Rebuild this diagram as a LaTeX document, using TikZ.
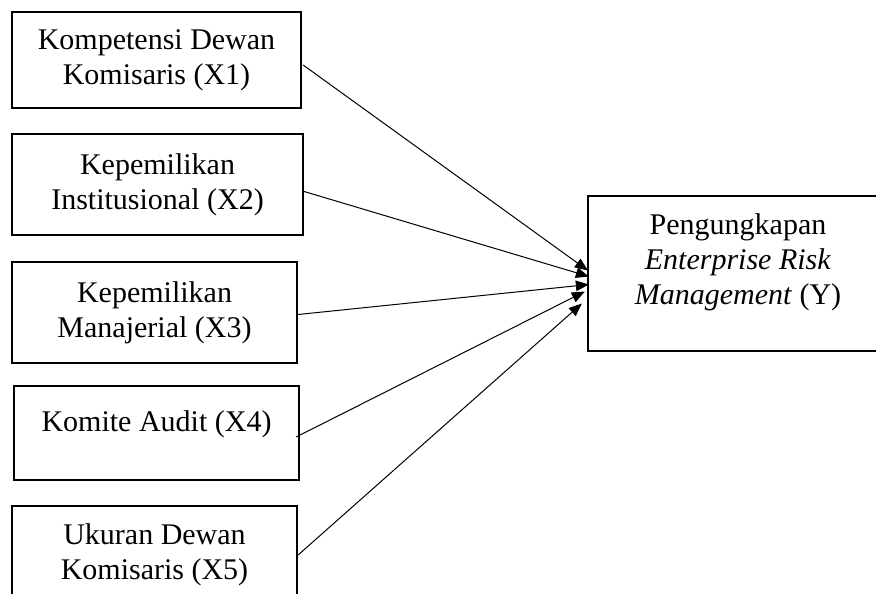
\documentclass[tikz,border=0pt]{standalone}
\usepackage{fontspec}
\setmainfont{Liberation Serif}
\usetikzlibrary{arrows.meta,calc}

\begin{document}
\begin{tikzpicture}[x=0.4pt,y=-0.4pt,
  box/.style={draw,line width=0.9pt,inner sep=0pt,align=center},
  txt/.style={inner sep=0pt,align=center},
  link/.style={line width=0.4pt,-{Triangle[length=5.2pt,width=4.2pt]}}]
\fontsize{12pt}{14pt}\selectfont

\clip (0,0) rectangle (876,594);

% Variabel independen
\node[box,minimum width=289*0.4pt,minimum height=96*0.4pt] (x1) at (156.5,60)
  {Kompetensi Dewan\\Komisaris (X1)};
\node[box,minimum width=291*0.4pt,minimum height=101*0.4pt] (x2) at (157.5,184.5)
  {Kepemilikan\\Institusional (X2)};
\node[box,minimum width=285*0.4pt,minimum height=101*0.4pt] (x3) at (154.5,312.5)
  {Kepemilikan\\Manajerial (X3)};
\node[box,minimum width=285*0.4pt,minimum height=94*0.4pt] (x4) at (156.5,433) {};
\node[txt] (x4t) at (156.5,424) {Komite Audit (X4)};
\node[box,minimum width=285*0.4pt,minimum height=98*0.4pt] (x5) at (154.5,555)
  {Ukuran Dewan\\Komisaris (X5)};

% Variabel dependen
\node[box,minimum width=300*0.4pt,minimum height=155*0.4pt] (y) at (738,273.5) {};
\node[txt] (yt) at (738,262)
  {Pengungkapan\\\textit{Enterprise Risk}\\\textit{Management} (Y)};

\coordinate (in1) at ($(y.west)+(1,-3)$);
\coordinate (in2) at ($(y.west)+(2,3)$);
\coordinate (in3) at ($(y.west)+(2,11)$);
\coordinate (in4) at ($(y.west)+(-2,18)$);
\coordinate (in5) at ($(y.west)+(-5,30)$);

% Panah
\draw[link] ($(x1.east)+(1,5)$) -- (in1);
\draw[link] ($(x2.east)+(0,7)$) -- (in2);
\draw[link] ($(x3.east)+(0,2)$) -- (in3);
\draw[link] ($(x4.east)+(-4,4)$) -- (in4);
\draw[link] (x5.east) -- (in5);

\end{tikzpicture}
\end{document}
